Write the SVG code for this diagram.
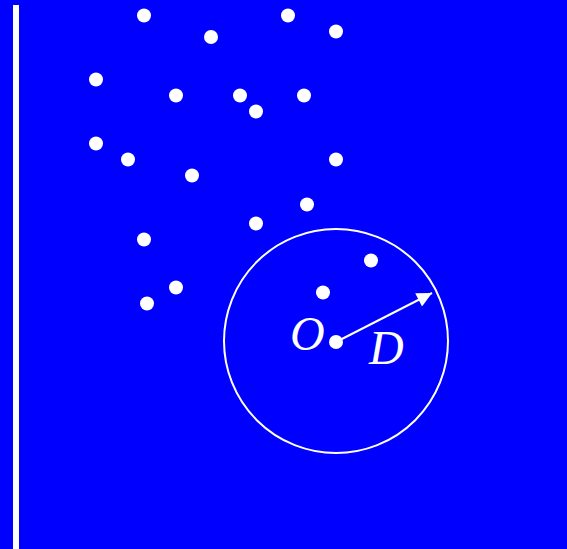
<svg xmlns="http://www.w3.org/2000/svg" width="567" height="549" viewBox="0 0 567 549">
<style>
.dot{fill:#fff}
.lbl{font-family:"Liberation Serif","Times New Roman",serif;font-style:italic;font-size:48px;fill:#fff}
</style>
<defs>
<marker id="ah" viewBox="0 0 10 10" refX="10" refY="5" markerWidth="18" markerHeight="15" markerUnits="userSpaceOnUse" orient="auto">
<path d="M0,0 L10,5 L0,10 z" fill="#fff"/>
</marker>
</defs>
<rect x="0" y="0" width="567" height="549" fill="#0000ff"/>
<rect x="13" y="5" width="6" height="544" fill="#fff"/>
<g id="points">
<circle class="dot" cx="144" cy="15.5" r="7"/>
<circle class="dot" cx="211" cy="37" r="7"/>
<circle class="dot" cx="288" cy="15.5" r="7"/>
<circle class="dot" cx="336" cy="31.5" r="7"/>
<circle class="dot" cx="96" cy="79.5" r="7"/>
<circle class="dot" cx="176" cy="95.5" r="7"/>
<circle class="dot" cx="240" cy="95.5" r="7"/>
<circle class="dot" cx="256" cy="111.5" r="7"/>
<circle class="dot" cx="304" cy="95.5" r="7"/>
<circle class="dot" cx="96" cy="143.5" r="7"/>
<circle class="dot" cx="128" cy="159.5" r="7"/>
<circle class="dot" cx="192" cy="175.5" r="7"/>
<circle class="dot" cx="336" cy="159.5" r="7"/>
<circle class="dot" cx="307" cy="204.5" r="7"/>
<circle class="dot" cx="256" cy="223.5" r="7"/>
<circle class="dot" cx="144" cy="239.5" r="7"/>
<circle class="dot" cx="176" cy="287.5" r="7"/>
<circle class="dot" cx="147" cy="303.5" r="7"/>
<circle class="dot" cx="371" cy="260.5" r="7"/>
<circle class="dot" cx="323" cy="292.5" r="7"/>
</g>
<g id="region">
<circle cx="336" cy="341" r="112" fill="none" stroke="#fff" stroke-width="2"/>
</g>
<g id="center">
<circle class="dot" cx="336" cy="342" r="7"/>
<text class="lbl" x="290" y="350">O</text>
</g>
<g id="connectors">
<line x1="336" y1="342" x2="432" y2="293" stroke="#fff" stroke-width="2" marker-end="url(#ah)"/>
</g>
<g id="radius-label">
<text class="lbl" x="369" y="364">D</text>
</g>
</svg>
